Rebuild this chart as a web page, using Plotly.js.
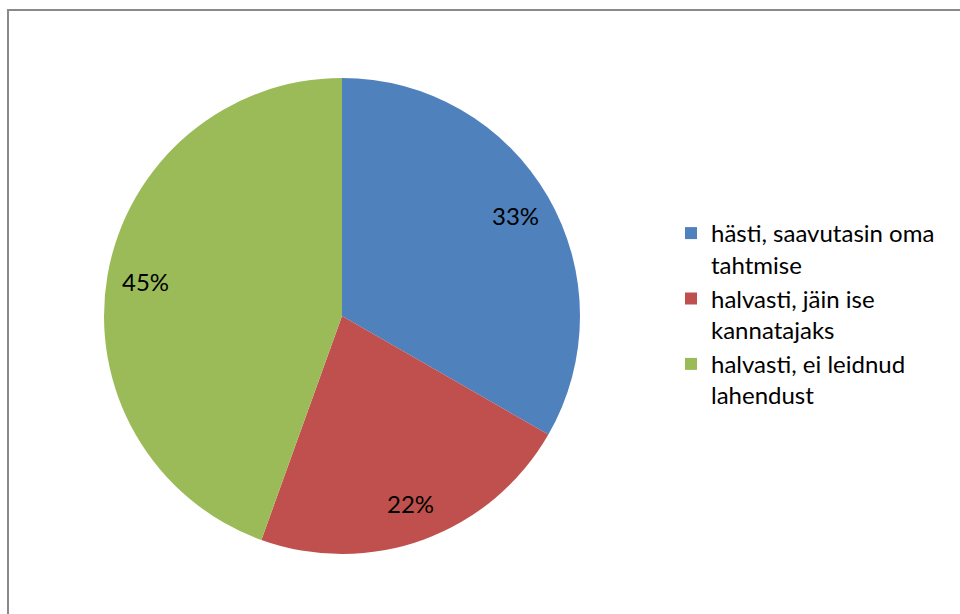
<!DOCTYPE html>
<html>
<head>
<meta charset="utf-8">
<script src="https://cdn.plot.ly/plotly-3.0.1.min.js"></script>
<style>
html,body{margin:0;padding:0;background:#fff;overflow:hidden;}
#wrap{position:relative;width:960px;height:614px;}
#chart{position:absolute;left:0;top:0;width:960px;height:614px;}
#frame{position:absolute;left:7px;top:9px;width:1000px;height:700px;border-left:2px solid #8a8a8a;border-top:2px solid #8a8a8a;pointer-events:none;}
</style>
</head>
<body>
<div id="wrap"><div id="chart"></div><div id="frame"></div></div>
<script>
const categories = ["hästi, saavutasin oma<br>tahtmise", "halvasti, jäin ise<br>kannatajaks", "halvasti, ei leidnud<br>lahendust"];
const values = [33.3, 22.2, 44.5];
const colors = ["#4F81BD", "#C0504D", "#9BBB59"];

const W = 960, H = 614;
const cx = 342, cy = 316, R = 238;
const labelRadius = 0.84;

const trace = {
  type: "pie",
  labels: categories,
  values: values,
  sort: false,
  direction: "clockwise",
  rotation: 0,
  marker: {colors: colors, line: {width: 0}},
  textinfo: "none",
  hoverinfo: "label+percent",
  domain: {x: [(cx - R) / W, (cx + R) / W], y: [1 - (cy + R) / H, 1 - (cy - R) / H]}
};

// percentage labels placed along each slice's mid-angle (derived from the values)
const total = values.reduce((a, b) => a + b, 0);
let cum = 0;
const annotations = values.map(v => {
  const mid = (cum + v / 2) / total;
  cum += v;
  const ang = mid * 2 * Math.PI; // clockwise from 12 o'clock
  const px = cx + labelRadius * R * Math.sin(ang);
  const py = cy - labelRadius * R * Math.cos(ang);
  return {
    xref: "paper", yref: "paper",
    x: px / W, y: 1 - py / H,
    xanchor: "center", yanchor: "middle",
    text: Math.round(v * 100 / total) + "%",
    showarrow: false,
    font: {family: "Lato, sans-serif", size: 24, color: "#000"}
  };
});

const layout = {
  width: W, height: H,
  margin: {l: 0, r: 0, t: 0, b: 0},
  paper_bgcolor: "#fff",
  showlegend: true,
  annotations: annotations,
  legend: {
    x: 671 / W, xanchor: "left",
    y: 1 - 211 / H, yanchor: "top",
    valign: "top",
    font: {family: "Lato, sans-serif", size: 24, color: "#000"},
    bgcolor: "rgba(0,0,0,0)"
  }
};

Plotly.newPlot("chart", [trace], layout, {displayModeBar: false, staticPlot: true});
</script>
</body>
</html>
